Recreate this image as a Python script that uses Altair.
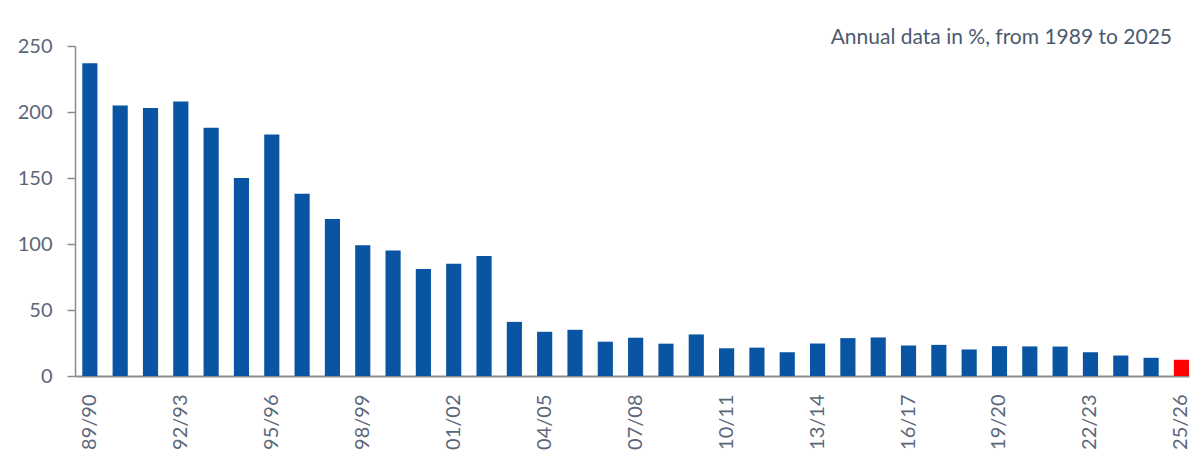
import altair as alt
import pandas as pd

seasons = ["89/90", "90/91", "91/92", "92/93", "93/94", "94/95", "95/96", "96/97",
           "97/98", "98/99", "99/00", "00/01", "01/02", "02/03", "03/04", "04/05",
           "05/06", "06/07", "07/08", "08/09", "09/10", "10/11", "11/12", "12/13",
           "13/14", "14/15", "15/16", "16/17", "17/18", "18/19", "19/20", "20/21",
           "21/22", "22/23", "23/24", "24/25", "25/26"]
values = [237, 205, 203, 208, 188, 150, 183, 138, 119, 99, 95, 81, 85, 91,
          41, 33.5, 35, 26, 29, 24.5, 31.5, 21, 21.5, 18, 24.6, 28.7, 29.2,
          23.1, 23.6, 20.1, 22.6, 22.4, 22.3, 18, 15.5, 13.8, 12.3]
highlight = ["base"] * 36 + ["latest"]
shown_labels = seasons[::3]
y_ticks = [0, 50, 100, 150, 200, 250]

df = pd.DataFrame({"season": seasons, "value": values, "kind": highlight})

label_color = "#5a6779"
axis_color = "#8c8c8c"
font = "Lato"

chart = alt.Chart(df).mark_bar().encode(
    x=alt.X("season:N", sort=seasons,
            scale=alt.Scale(paddingInner=0.5, paddingOuter=0.12, align=1),
            axis=alt.Axis(title=None, values=shown_labels, labelAngle=270,
                          ticks=False, tickSize=0, labelPadding=18,
                          labelFontSize=20, labelColor=label_color, labelFont=font,
                          domainColor=axis_color, domainWidth=2)),
    y=alt.Y("value:Q", scale=alt.Scale(domain=[0, 250], nice=False),
            axis=alt.Axis(title=None, values=y_ticks, grid=False,
                          tickSize=8, tickColor=axis_color, tickWidth=1.5,
                          labelPadding=15, labelFontSize=20,
                          labelColor=label_color, labelFont=font,
                          domainColor=axis_color, domainWidth=1.5)),
    color=alt.Color("kind:N",
                    scale=alt.Scale(domain=["base", "latest"], range=["#0a55a3", "#ff0000"]),
                    legend=None),
).properties(
    width=1114,
    height=330,
    title=alt.TitleParams("Annual data in %, from 1989 to 2025", anchor="end",
                          frame="group", fontSize=21, font=font, fontWeight="normal",
                          color="#4b5a6e", dx=-17, dy=30, offset=1,
                          baseline="alphabetic"),
    autosize=alt.AutoSizeParams(type="none"),
    padding={"left": 67, "top": 38, "right": 3, "bottom": 85},
).configure_view(stroke=None)

chart.save("out.html", embed_options={"renderer": "svg", "actions": False})
